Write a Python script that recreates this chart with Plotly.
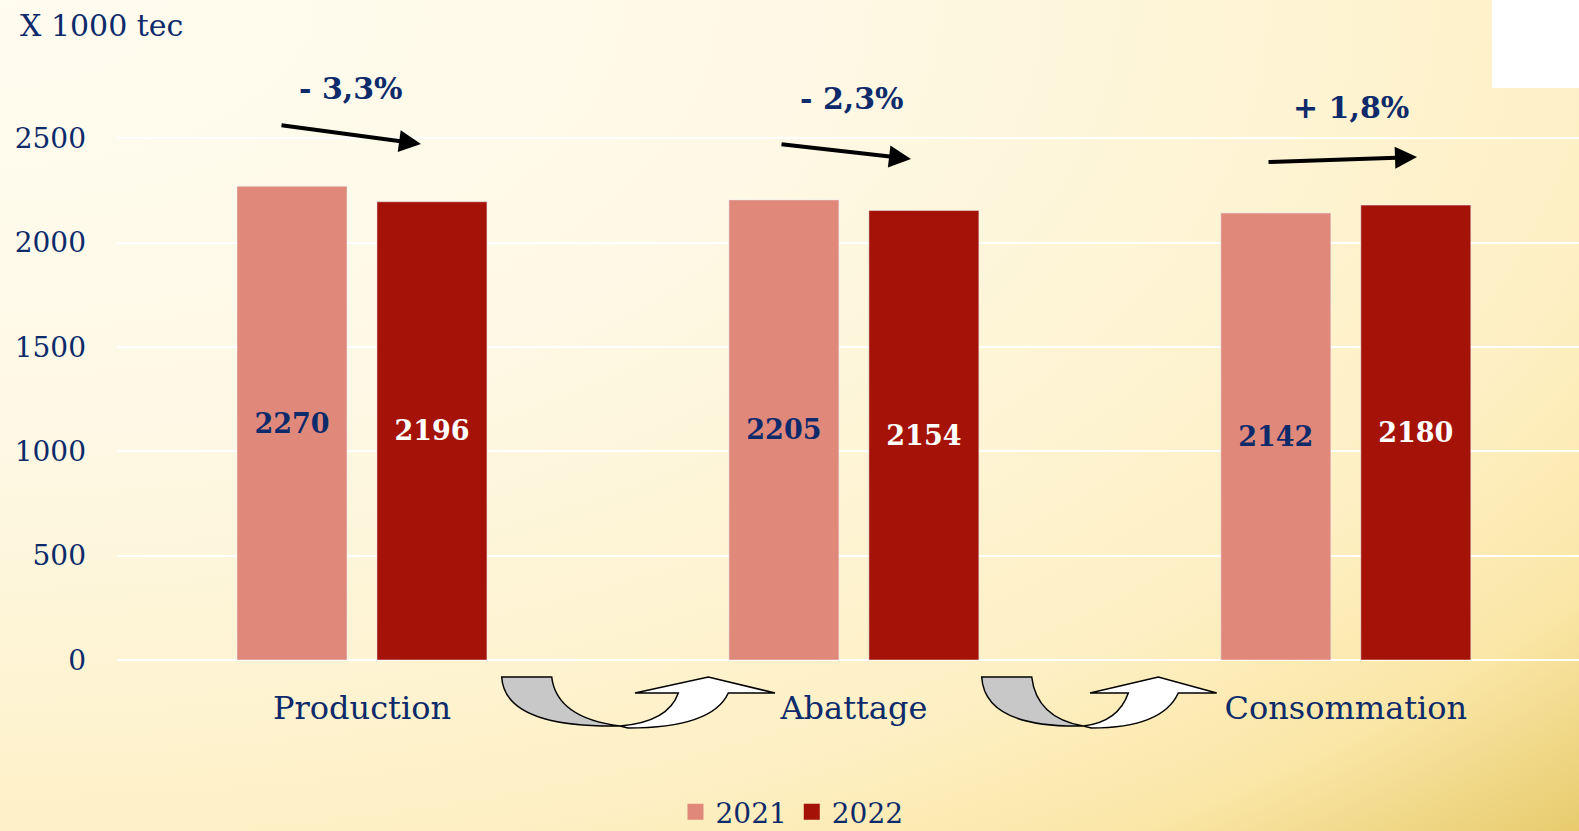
import base64
import plotly.graph_objects as go

# data (x 1000 tec)
categories = ["Production", "Abattage", "Consommation"]
values_2021 = [2270, 2205, 2142]
values_2022 = [2196, 2154, 2180]
years = ["2021", "2022"]
y_ticks = [0, 500, 1000, 1500, 2000, 2500]

NAVY = "#0D2A6B"
C2021, C2022 = "#E0897A", "#A51308"
FONT = "DejaVu Serif"
W, H = 1579, 831
L, T, B = 117, 34, 171  # margins in px
PW, PH = W - L, H - T - B
UNIT = 492  # px per category


def px(x):
    return (x - L) / PW


def py(y):
    return (H - B - y) / PH


def pct_label(a, b):
    p = (b / a - 1) * 100
    sign = "+" if p >= 0 else "-"
    return f"{sign} {abs(p):.1f}%".replace(".", ",")


fig = go.Figure()
fig.add_trace(go.Bar(
    x=categories, y=values_2021, name=years[0], showlegend=False,
    marker=dict(color=C2021), width=110 / UNIT, offset=-125 / UNIT,
    text=values_2021, textposition="inside", insidetextanchor="middle",
    textfont=dict(family=FONT, size=27, color=NAVY, weight="bold"),
))
fig.add_trace(go.Bar(
    x=categories, y=values_2022, name=years[1], showlegend=False,
    marker=dict(color=C2022), width=110 / UNIT, offset=15 / UNIT,
    text=values_2022, textposition="inside", insidetextanchor="middle",
    textfont=dict(family=FONT, size=27, color="white", weight="bold"),
))
# legend entries with bigger square swatches
for name, col in zip(years, [C2021, C2022]):
    fig.add_trace(go.Scatter(x=[None], y=[None], mode="markers", name=name,
                             marker=dict(symbol="square", size=18, color=col)))

# background gradient
svg = (
    f"<svg xmlns='http://www.w3.org/2000/svg' width='{W}' height='{H}' "
    f"viewBox='0 0 {W} {H}' preserveAspectRatio='none'><defs>"
    "<radialGradient id='g' cx='0' cy='0' r='1.45' gradientUnits='objectBoundingBox'>"
    "<stop offset='0' stop-color='#FFFCF0'/>"
    "<stop offset='0.35' stop-color='#FEF9E6'/>"
    "<stop offset='0.6' stop-color='#FEF3D0'/>"
    "<stop offset='0.72' stop-color='#FEF0C4'/>"
    "<stop offset='0.85' stop-color='#FAE6A6'/>"
    "<stop offset='1' stop-color='#E4C662'/>"
    f"</radialGradient></defs><rect width='{W}' height='{H}' fill='url(#g)'/></svg>"
)
src = "data:image/svg+xml;base64," + base64.b64encode(svg.encode()).decode()
fig.add_layout_image(dict(
    source=src, xref="paper", yref="paper", x=px(0), y=py(0),
    sizex=W / PW, sizey=H / PH, sizing="stretch",
    xanchor="left", yanchor="top", layer="below",
))

# white patch top right
fig.add_shape(type="rect", xref="paper", yref="paper",
              x0=px(1492), x1=px(W), y0=py(88), y1=py(0),
              fillcolor="white", line=dict(width=0), layer="below")


# curved arrows between the categories
def curved_pair(g0, g1, b, barbL, nL, apex, nR, barbR):
    pts_gray = (f"M {px(g0)},{py(677)} L {px(g1)},{py(677)} "
                f"Q {px(g1 + 5)},{py(718)} {px(b)},{py(726)} "
                f"Q {px(g0 + 3)},{py(728)} {px(g0)},{py(677)} Z")
    pts_white = (f"M {px(b)},{py(726)} Q {px(nL - 10)},{py(722)} {px(nL)},{py(693)} "
                 f"L {px(barbL)},{py(693)} L {px(apex)},{py(677)} L {px(barbR)},{py(693)} "
                 f"L {px(nR)},{py(693)} Q {px(nR - 16)},{py(728)} {px(b + 8)},{py(728)} Z")
    fig.add_shape(type="path", xref="paper", yref="paper", path=pts_gray,
                  fillcolor="#C8C8C8", line=dict(color="black", width=1.5))
    fig.add_shape(type="path", xref="paper", yref="paper", path=pts_white,
                  fillcolor="white", line=dict(color="black", width=1.5))


curved_pair(501.7, 551.7, 620, 635, 678.3, 708.3, 728.3, 775)
curved_pair(981.7, 1031.7, 1083.3, 1090, 1128.3, 1158.3, 1178.3, 1216.7)

# change arrows and percentages
arrows = [((280, 125), (421, 144)), ((780, 144), (911, 159)), ((1267, 162), (1417, 157))]
label_pos = [(351, 89), (852, 98), (1351, 108)]
for i, cat in enumerate(categories):
    (tx, ty), (hx, hy) = arrows[i]
    fig.add_annotation(xref="paper", yref="paper", x=px(hx), y=py(hy),
                       ax=tx - hx, ay=ty - hy, showarrow=True, text="",
                       arrowhead=2, arrowsize=1.1, arrowwidth=4, arrowcolor="black",
                       standoff=0)
    lx, ly = label_pos[i]
    fig.add_annotation(xref="paper", yref="paper", x=px(lx), y=py(ly),
                       xanchor="center", yanchor="middle", showarrow=False,
                       text=pct_label(values_2021[i], values_2022[i]),
                       font=dict(family=FONT, size=30, color=NAVY, weight="bold"))

fig.add_annotation(xref="paper", yref="paper", x=px(18), y=py(25),
                   xanchor="left", yanchor="middle", showarrow=False,
                   text="X 1000 tec", font=dict(family=FONT, size=30, color=NAVY))

fig.update_layout(
    width=W, height=H,
    margin=dict(l=L, r=0, t=T, b=B, autoexpand=False),
    paper_bgcolor="#FEF6DA", plot_bgcolor="rgba(0,0,0,0)",
    showlegend=True,
    legend=dict(orientation="h", x=px(792), xanchor="center", y=py(812), yanchor="middle",
                font=dict(family=FONT, size=28, color=NAVY), bgcolor="rgba(0,0,0,0)",
                itemsizing="trace"),
    font=dict(family=FONT, color=NAVY),
)
fig.update_xaxes(range=[-0.498, 2.474], showgrid=False, showline=False, ticks="",
                 tickfont=dict(family=FONT, size=32, color=NAVY), ticklabelstandoff=26)
fig.update_yaxes(range=[0, 3000], tickvals=y_ticks, showgrid=True, gridcolor="white",
                 gridwidth=2, zeroline=True, zerolinecolor="white", zerolinewidth=2,
                 tickfont=dict(family=FONT, size=28, color=NAVY), ticklabelstandoff=30)

fig.write_html("out.html", config={"displayModeBar": False},
               post_script="document.body.style.margin='0px';document.body.style.overflow='hidden';")
